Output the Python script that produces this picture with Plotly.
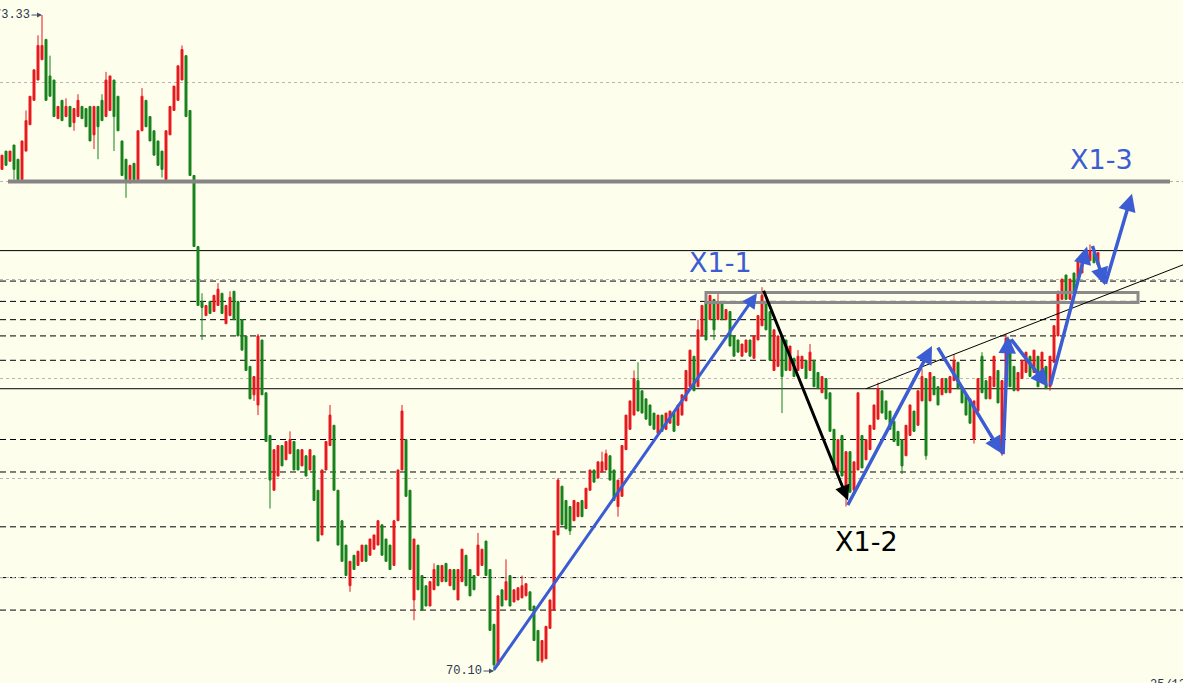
import plotly.graph_objects as go

# --- candle data (one bar per slot, prices) ---
bar_opens = [
    72.57, 72.66, 72.61, 72.69, 72.62, 72.52, 72.66, 72.79, 72.91, 73.01,
    73.11, 73.21, 73.03, 73.01, 72.82, 72.91, 72.83, 72.88, 72.80, 72.83,
    72.88, 72.87, 72.88, 72.74, 72.88, 72.91, 72.83, 72.86, 73.01, 72.93,
    72.71, 72.62, 72.52, 72.60, 72.52, 72.76, 72.91, 72.83, 72.76, 72.71,
    72.66, 72.52, 72.74, 72.86, 72.91, 73.01, 73.13, 72.86, 72.54, 72.19,
    71.92, 71.85, 71.92, 71.87, 71.90, 71.96, 71.81, 71.85, 71.97, 71.92,
    71.83, 71.75, 71.60, 71.46, 71.41, 71.73, 71.47, 71.26, 70.99, 71.06,
    71.21, 71.14, 71.17, 71.23, 71.19, 71.11, 71.16, 71.09, 71.16, 70.99,
    70.77, 71.09, 71.21, 71.31, 70.99, 70.84, 70.72, 70.52, 70.67, 70.62,
    70.64, 70.72, 70.67, 70.70, 70.72, 70.82, 70.75, 70.72, 70.62, 70.84,
    71.09, 71.24, 70.99, 70.45, 70.72, 70.57, 70.52, 70.42, 70.50, 70.62,
    70.54, 70.63, 70.52, 70.60, 70.45, 70.54, 70.67, 70.60, 70.57, 70.57,
    70.62, 70.74, 70.60, 70.33, 70.13, 70.50, 70.45, 70.57, 70.44, 70.45,
    70.46, 70.47, 70.49, 70.42, 70.30, 70.15, 70.16, 70.31, 70.40, 70.77,
    71.01, 70.94, 70.91, 70.84, 70.86, 70.94, 70.90, 70.99, 71.09, 71.05,
    71.08, 71.09, 71.16, 71.09, 70.91, 70.96, 71.19, 71.29, 71.36, 71.53,
    71.48, 71.44, 71.41, 71.37, 71.27, 71.36, 71.29, 71.32, 71.37, 71.31,
    71.36, 71.43, 71.50, 71.65, 71.50, 71.75, 71.92, 71.83, 71.93, 71.83,
    71.91, 71.83, 71.87, 71.75, 71.73, 71.65, 71.67, 71.73, 71.64, 71.73,
    71.80, 71.92, 71.87, 71.58, 71.60, 71.75, 71.73, 71.58, 71.64, 71.58,
    71.59, 71.63, 71.58, 71.63, 71.57, 71.47, 71.54, 71.47, 71.29, 71.08,
    71.26, 70.96, 71.18, 70.99, 71.09, 71.26, 71.14, 71.19, 71.29, 71.34,
    71.48, 71.43, 71.38, 71.33, 71.28, 71.24, 71.16, 71.26, 71.38, 71.31,
    71.43, 71.54, 71.43, 71.55, 71.50, 71.46, 71.54, 71.47, 71.53, 71.62,
    71.50, 71.46, 71.44, 71.24, 71.38, 71.65, 71.53, 71.44, 71.50, 71.58,
    71.17, 71.50, 71.73, 71.60, 71.48, 71.54, 71.57, 71.65, 71.57, 71.65,
    71.57, 71.60, 71.50, 71.62, 71.75, 71.93, 72.05, 71.93, 72.06, 72.03,
    72.06, 72.16, 72.12, 72.16, 72.10,
]
bar_closes = [
    72.64, 72.59, 72.66, 72.57, 72.52, 72.71, 72.81, 72.93, 73.06, 73.18,
    73.18, 72.91, 72.93, 72.83, 72.88, 72.81, 72.88, 72.78, 72.87, 72.91,
    72.82, 72.78, 72.71, 72.88, 72.78, 72.81, 73.01, 73.03, 72.83, 72.76,
    72.54, 72.52, 72.59, 72.52, 72.76, 72.93, 72.78, 72.71, 72.64, 72.59,
    72.57, 72.76, 72.88, 72.98, 73.08, 73.16, 72.83, 72.54, 72.19, 71.90,
    71.89, 71.90, 71.86, 71.95, 71.98, 71.86, 71.90, 71.94, 71.83, 71.75,
    71.68, 71.58, 71.44, 71.55, 71.75, 71.46, 71.23, 71.04, 71.19, 71.21,
    71.11, 71.23, 71.24, 71.09, 71.09, 71.19, 71.06, 71.19, 70.94, 70.74,
    71.09, 71.23, 71.36, 70.99, 70.72, 70.64, 70.57, 70.64, 70.60, 70.69,
    70.72, 70.64, 70.75, 70.77, 70.84, 70.67, 70.64, 70.60, 70.84, 71.09,
    71.38, 70.96, 70.60, 70.75, 70.50, 70.40, 70.42, 70.54, 70.60, 70.52,
    70.62, 70.54, 70.60, 70.50, 70.60, 70.70, 70.52, 70.47, 70.50, 70.72,
    70.70, 70.57, 70.30, 70.13, 70.47, 70.42, 70.54, 70.42, 70.50, 70.51,
    70.52, 70.53, 70.40, 70.25, 70.15, 70.25, 70.32, 70.45, 70.79, 71.04,
    70.82, 70.80, 70.79, 70.94, 70.93, 70.86, 71.00, 71.09, 71.03, 71.13,
    71.13, 71.17, 71.04, 70.94, 71.04, 71.21, 71.36, 71.43, 71.54, 71.38,
    71.37, 71.34, 71.31, 71.29, 71.36, 71.28, 71.37, 71.38, 71.28, 71.41,
    71.46, 71.58, 71.68, 71.48, 71.78, 71.90, 71.73, 71.95, 71.78, 71.92,
    71.83, 71.88, 71.70, 71.65, 71.67, 71.71, 71.73, 71.65, 71.75, 71.85,
    71.95, 71.78, 71.63, 71.78, 71.75, 71.55, 71.58, 71.70, 71.55, 71.65,
    71.65, 71.54, 71.67, 71.50, 71.49, 71.55, 71.44, 71.28, 71.09, 71.24,
    71.06, 71.18, 70.98, 71.13, 71.47, 71.10, 71.24, 71.31, 71.41, 71.49,
    71.37, 71.34, 71.29, 71.23, 71.21, 71.11, 71.31, 71.41, 71.28, 71.48,
    71.55, 71.16, 71.57, 71.46, 71.41, 71.54, 71.47, 71.55, 71.63, 71.49,
    71.42, 71.36, 71.32, 71.43, 71.54, 71.47, 71.44, 71.55, 71.65, 71.42,
    71.53, 71.74, 71.50, 71.48, 71.57, 71.63, 71.67, 71.55, 71.68, 71.50,
    71.67, 71.49, 71.65, 71.80, 71.97, 72.03, 71.93, 72.03, 71.96, 72.13,
    72.14, 72.11, 72.17, 72.11, 72.16,
]
# bars whose wick reaches past the body
wick_highs = {
    6: 72.86, 9: 73.23, 10: 73.33, 12: 73.13, 16: 72.92, 19: 72.94, 25: 72.94,
    26: 73.05, 35: 72.97, 45: 73.18, 50: 71.96, 54: 72.01, 57: 71.97, 64: 71.76,
    72: 71.28, 82: 71.41, 100: 71.41, 108: 70.63, 119: 70.78, 126: 70.65,
    130: 70.57, 139: 71.05, 150: 71.18, 151: 71.19, 158: 71.58, 159: 71.62,
    174: 71.83, 176: 71.96, 179: 71.96, 190: 71.99, 199: 71.68, 202: 71.71,
    219: 71.52, 230: 71.59, 238: 71.66, 245: 71.67, 251: 71.76, 272: 72.20,
}
wick_lows = {
    3: 72.52, 18: 72.76, 23: 72.67, 24: 72.62, 28: 72.66, 31: 72.43, 32: 72.50,
    40: 72.53, 41: 72.52, 50: 71.73, 63: 71.43, 64: 71.36, 67: 70.90, 87: 70.49,
    103: 70.35, 123: 70.10, 135: 70.14, 142: 70.77, 154: 70.86, 178: 71.73,
    195: 71.37, 211: 70.91, 225: 71.07, 231: 71.14, 243: 71.22, 250: 71.16,
    262: 71.48,
}

# --- price levels drawn across the chart ---
heavy_level = 72.51
solid_levels = [72.17, 71.49]
dashed_levels = [72.02, 71.92, 71.83, 71.75, 71.63, 71.24, 71.08, 70.81, 70.56, 70.40]
grid_levels = [73.00, 72.51, 72.03, 71.54, 71.05, 70.56]
box_band = (176, 284, 71.915, 71.964)       # bar from, bar to, low, high
trend_line = (216, 71.49, 295.25, 72.10)

# arrows: (from bar, from price, to bar, to price, colour key, width)
arrows = [
    (122.75, 70.10, 188.75, 71.96, "blue", 3),
    (190.25, 71.98, 211.5, 70.94, "black", 3),
    (211.25, 70.91, 232.5, 71.70, "blue", 3.5),
    (233.75, 71.70, 250.0, 71.17, "blue", 3.5),
    (250.25, 71.16, 251.5, 71.75, "blue", 3.5),
    (252.0, 71.74, 261.5, 71.50, "blue", 3.5),
    (262.0, 71.50, 271.25, 72.19, "blue", 3.5),
    (272.5, 72.20, 275.75, 72.00, "blue", 3.5),
    (275.75, 72.00, 282.5, 72.45, "blue", 3.5),
]
wave_labels = [("X1-1", 179.6, 72.11, "blue"), ("X1-2", 216.0, 70.74, "black"),
               ("X1-3", 274.9, 72.62, "blue")]

_BG = "#fefeec"
_RED = "#e8181c"
_GREEN = "#17821a"
_COLORS = {"blue": "#3c5cd4", "black": "#000000"}

assert len(bar_opens) == len(bar_closes)
bars = list(range(len(bar_opens)))
highs = [wick_highs.get(i, max(o, c)) for i, o, c in zip(bars, bar_opens, bar_closes)]
lows = [wick_lows.get(i, min(o, c)) for i, o, c in zip(bars, bar_opens, bar_closes)]

fig = go.Figure(go.Candlestick(
    x=bars, open=bar_opens, high=highs, low=lows, close=bar_closes,
    increasing={"line": {"color": _RED, "width": 1}, "fillcolor": _RED},
    decreasing={"line": {"color": _GREEN, "width": 1}, "fillcolor": _GREEN},
    whiskerwidth=0, showlegend=False, hoverinfo="skip",
))

for lvl in dashed_levels:
    fig.add_shape(type="line", xref="paper", x0=0, x1=1, y0=lvl, y1=lvl,
                  line={"color": "#000000", "width": 1, "dash": "6px,4px"}, layer="below")
for lvl in solid_levels:
    fig.add_shape(type="line", xref="paper", x0=0, x1=1, y0=lvl, y1=lvl,
                  line={"color": "#000000", "width": 1}, layer="below")
fig.add_shape(type="line", x0=1.5, x1=292, y0=heavy_level, y1=heavy_level,
              line={"color": "#858585", "width": 4})
fig.add_shape(type="rect", x0=box_band[0], x1=box_band[1], y0=box_band[2], y1=box_band[3],
              line={"color": "#8a8a8a", "width": 3}, fillcolor="rgba(0,0,0,0)")
fig.add_shape(type="line", x0=trend_line[0], y0=trend_line[1], x1=trend_line[2], y1=trend_line[3],
              line={"color": "#000000", "width": 1})

for x0, y0, x1, y1, key, w in arrows:
    fig.add_annotation(
        x=x1, y=y1, ax=x0, ay=y0, xref="x", yref="y", axref="x", ayref="y",
        text="", showarrow=True, arrowhead=2, arrowsize=1, arrowwidth=w,
        arrowcolor=_COLORS[key], standoff=0,
    )

for text, bx, price, key in wave_labels:
    fig.add_annotation(x=bx, y=price, text=text, showarrow=False,
                       font={"family": "DejaVu Sans", "size": 27, "color": _COLORS[key]})

# extreme price tags
for bx, price in ((10, 73.33), (123, 70.10)):
    fig.add_annotation(
        x=bx, y=price, text=f"{price:.2f}", showarrow=True, ax=-30, ay=0,
        arrowhead=2, arrowsize=1, arrowwidth=1, arrowcolor="#44506a", standoff=0,
        font={"family": "Liberation Mono", "size": 12, "color": "#2b3650"},
    )

fig.add_annotation(x=1148 / 1183, y=0.0102, xref="paper", yref="paper", text="25/12/",
                   xanchor="left", yanchor="top", showarrow=False,
                   font={"family": "Liberation Mono", "size": 12, "color": "#2b3650"})

fig.update_layout(
    width=1183, height=683,
    margin={"l": 0, "r": 0, "t": 0, "b": 0},
    paper_bgcolor=_BG, plot_bgcolor=_BG,
    xaxis={"range": [-0.5, 295.25], "visible": False, "rangeslider": {"visible": False}},
    yaxis={"range": [70.041, 73.404], "tickvals": grid_levels, "showticklabels": False,
           "gridcolor": "#b5b5b5", "griddash": "dot", "gridwidth": 1,
           "zeroline": False, "showline": False},
)
fig.write_html(
    "out.html",
    config={"displayModeBar": False},
    post_script="document.body.style.margin='0';document.body.style.overflow='hidden';"
                "document.body.style.background='" + _BG + "';",
)
